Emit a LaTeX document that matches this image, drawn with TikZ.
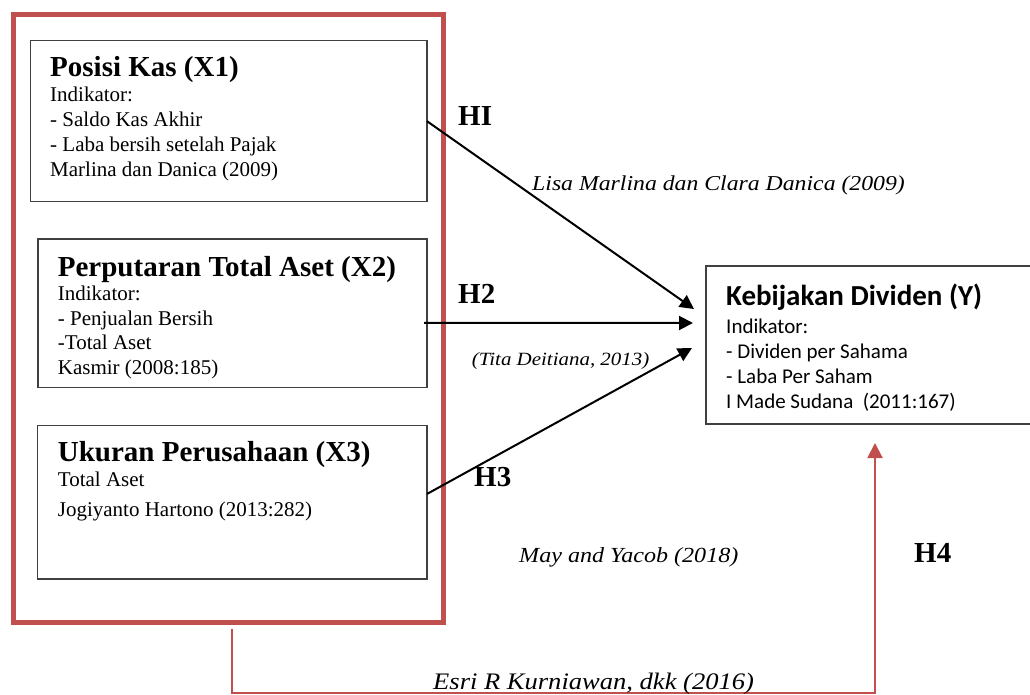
\documentclass[tikz,border=0pt]{standalone}
\usepackage{fontspec}
\setmainfont{Liberation Serif}
\newfontfamily\calibrifont{Carlito}
\newfontfamily\srcfont[FakeStretch=1.12]{Liberation Serif}
\usetikzlibrary{arrows.meta, positioning}
\definecolor{framered}{RGB}{192,80,77}
\definecolor{boxgray}{RGB}{64,64,64}
\newcommand{\vartitle}{\fontsize{29}{29}\selectfont\bfseries}
\newcommand{\varbody}{\fontsize{21}{25}\selectfont}
\newcommand{\linkwidth}{2pt}
\tikzstyle{groupframe} = [% red frame round the independent variables
  rectangle,
  draw=framered,
  line width=5pt,
  anchor=north west,
  inner sep=0pt,
  outer sep=0pt
  ]
\tikzstyle{varbox} = [% variable box
  rectangle,
  draw=boxgray,
  line width=1.1pt,
  anchor=north west,
  inner sep=0pt,
  outer sep=0pt
  ]
\tikzstyle{vartext} = [% text inside a variable box, placed at its last line
  anchor=base west,
  inner sep=0pt,
  align=left,
  font=\varbody
  ]
\tikzstyle{hyp} = [% hypothesis label
  anchor=base west,
  inner sep=0pt,
  font=\vartitle
  ]
\tikzstyle{source} = [% source of a hypothesis
  anchor=base west,
  inner sep=0pt
  ]
\tikzstyle{arrow} = [% black arrow
  line width=\linkwidth,
  -{Triangle[length=14pt,width=14pt]}
  ]
\tikzstyle{redarrow} = [% red arrow
  draw=framered,
  line width=\linkwidth,
  -{Triangle[length=15pt,width=15pt]}
  ]
\begin{document}
\begin{tikzpicture}[x=1pt, y=-1pt]

\useasboundingbox (0,0) rectangle (1030,695);

%%% Frame and boxes
\node[groupframe, minimum width=430.2pt, minimum height=607.7pt] (frame) at (13.5,15) {};
\node[varbox, minimum width=396.3pt, minimum height=161pt] (x1) at (30.7,40.7) {};
\node[varbox, minimum width=389pt, minimum height=148.7pt] (x2) at (38,239) {};
\node[varbox, minimum width=389.3pt, minimum height=153.3pt] (x3) at (37.7,425.7) {};
\node[varbox, minimum width=338pt, minimum height=158pt] (y) at (706,266) {};

%%% Box texts
\node[vartext] (x1text) at (50,177) {{\vartitle Posisi Kas (X1)}\\ Indikator:\\ - Saldo Kas Akhir\\ - Laba bersih setelah Pajak\\ Marlina dan Danica (2009)};
\node[vartext, font=\fontsize{21}{24.5}\selectfont] (x2text) at (57.7,374.3) {{\vartitle Perputaran Total Aset (X2)}\\ Indikator:\\ - Penjualan Bersih\\ -Total Aset\\ Kasmir (2008:185)};
\node[vartext] (x3text) at (57.7,516.7) {{\vartitle Ukuran Perusahaan (X3)}\\ Total Aset\\[5pt] Jogiyanto Hartono (2013:282)};
\node[vartext, font=\calibrifont\varbody] (ytext) at (726,408) {{\fontsize{29}{29}\selectfont\bfseries Kebijakan Dividen (Y)}\\[3pt] Indikator:\\ - Dividen per Sahama\\ - Laba Per Saham\\ I Made Sudana~ (2011:167)};

%%% Arrows
\draw[arrow] (x1.east) -- ([xshift=-12pt,yshift=36pt]y.west);
\draw[arrow] ([xshift=-3pt,yshift=-9.6pt]x2.east) -- ([xshift=-13pt,yshift=22pt]y.west);
\draw[arrow] ([yshift=8.4pt]x3.east) -- ([xshift=-14pt,yshift=-3pt]y.west);
\draw[redarrow] ([xshift=218.5pt,yshift=-6.3pt]frame.south west) -- ++(0,63.5) -| ([yshift=-19pt]y.south);

%%% Labels
\node[hyp] (h1) at (458,126) {HI};
\node[hyp] (h2) at (458,303) {H2};
\node[hyp] (h3) at (474,486) {H3};
\node[hyp] (h4) at (914,562) {H4};
\node[source, font=\srcfont\itshape\fontsize{21.2}{24}\selectfont] (src1) at (532,191) {Lisa Marlina dan Clara Danica (2009)};
\node[source, font=\srcfont\itshape\fontsize{18.7}{22}\selectfont] (src2) at (471.7,365) {(Tita Deitiana, 2013)};
\node[source, font=\srcfont\itshape\fontsize{21.5}{24}\selectfont] (src3) at (519,562) {May and Yacob (2018)};
\node[source, font=\srcfont\itshape\fontsize{23.7}{26}\selectfont] (src4) at (433,689) {Esri R Kurniawan, dkk (2016)};

\end{tikzpicture}
\end{document}
